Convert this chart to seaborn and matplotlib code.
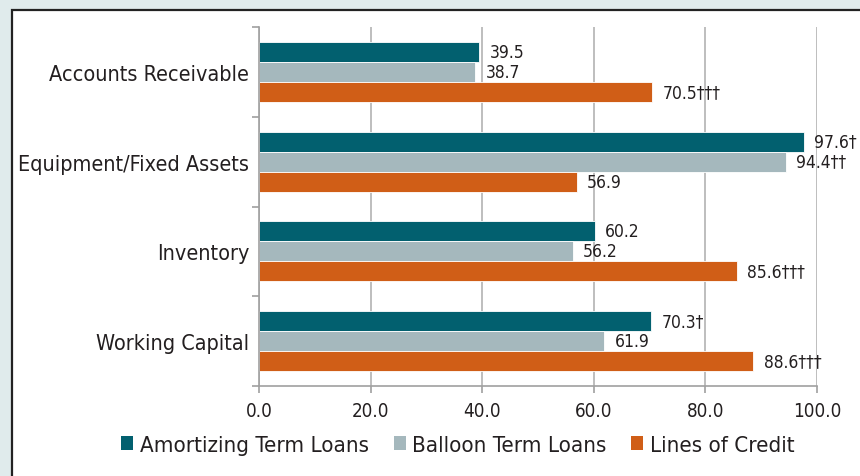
import matplotlib
matplotlib.use("Agg")
import matplotlib.pyplot as plt
import seaborn as sns
import pandas as pd
from matplotlib.patches import Rectangle, Patch
from matplotlib.ticker import FixedLocator
from matplotlib import font_manager

categories = ["Accounts Receivable", "Equipment/Fixed Assets", "Inventory", "Working Capital"]
series = ["Amortizing Term Loans", "Balloon Term Loans", "Lines of Credit"]
amortizing = [39.5, 97.6, 60.2, 70.3]
balloon = [38.7, 94.4, 56.2, 61.9]
lines_credit = [70.5, 56.9, 85.6, 88.6]
amortizing_labels = ["39.5", "97.6†", "60.2", "70.3†"]
balloon_labels = ["38.7", "94.4††", "56.2", "61.9"]
lines_labels = ["70.5†††", "56.9", "85.6†††", "88.6†††"]
x_ticks = [0, 20, 40, 60, 80, 100]

colors = ["#02606f", "#a5b8bd", "#d05e17"]

sns.set_style("white")
names = {f.name for f in font_manager.fontManager.ttflist}
fam = [n for n in ["Liberation Sans Narrow", "DejaVu Sans Condensed"] if n in names]
plt.rcParams['font.family'] = fam + ['DejaVu Sans']
if "Liberation Sans Narrow" not in names:
    plt.rcParams['font.stretch'] = 'condensed'

rows = []
for s, vals in zip(series, [amortizing, balloon, lines_credit]):
    for c, v in zip(categories, vals):
        rows.append({"category": c, "series": s, "value": v})
df = pd.DataFrame(rows)

fig = plt.figure(figsize=(8.6, 4.77), dpi=100)
fig.patch.set_facecolor("#e0ebec")
fig.patches.append(Rectangle((12 / 860, -0.1), 1.0, 1 - 10.5 / 477 + 0.1,
                             transform=fig.transFigure, facecolor="white",
                             edgecolor="#222222", linewidth=1.6, zorder=-5))

ax = fig.add_axes([259 / 860, (477 - 387) / 477, (817 - 259) / 860, (387 - 28) / 477])
ax.set_zorder(2)
ax.set_facecolor("none")
sns.barplot(data=df, y="category", x="value", hue="series", orient="h",
            order=categories, hue_order=series, palette=colors, saturation=1,
            width=0.67, edgecolor="white", linewidth=0.6, ax=ax, legend=False)

label_sets = [amortizing_labels, balloon_labels, lines_labels]
for cont, labs in zip(ax.containers, label_sets):
    ax.bar_label(cont, labels=labs, padding=7.5, fontsize=12.5, color="#231f20", clip_on=False)

ax.set_xlim(0, 100)
ax.set_ylim(3.5, -0.5)
ax.set_xticks(x_ticks)
ax.set_xticklabels([f"{t:.1f}" for t in x_ticks], fontsize=13.5, color="#231f20")
ax.set_yticks(range(len(categories)))
ax.set_yticklabels(categories, fontsize=15.5, color="#231f20")
ax.yaxis.set_minor_locator(FixedLocator([-0.5, 0.5, 1.5, 2.5, 3.5]))
ax.tick_params(axis="y", which="major", length=0, pad=7)
ax.tick_params(axis="y", which="minor", length=5, color="#a0a0a0", width=1.2, left=True)
ax.tick_params(axis="x", which="major", length=5, color="#a0a0a0", width=1.2, pad=6, bottom=True)
ax.set_xlabel("")
ax.set_ylabel("")
ax.grid(axis="x", color="#b3b3b3", linewidth=1.2)
ax.set_axisbelow(True)
for side in ["top", "right"]:
    ax.spines[side].set_visible(False)
for side in ["left", "bottom"]:
    ax.spines[side].set_color("#a0a0a0")
    ax.spines[side].set_linewidth(1.2)

handles = [Patch(facecolor=c, edgecolor="none") for c in colors]
fig.legend(handles, series, loc="center", bbox_to_anchor=(458 / 860, 1 - 446 / 477),
           ncol=3, frameon=False, fontsize=16, handlelength=0.55, handleheight=0.55,
           handletextpad=0.3, columnspacing=1.1, labelcolor="#231f20")

fig.savefig("out.png", dpi=100, facecolor=fig.get_facecolor())
